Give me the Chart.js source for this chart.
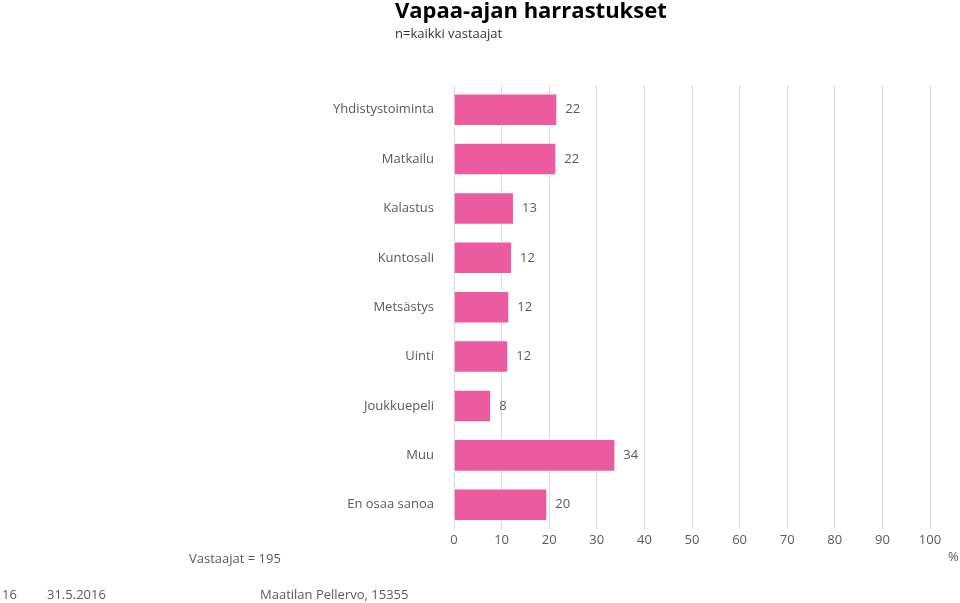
<!DOCTYPE html>
<html><head><meta charset="utf-8">
<script src="https://cdn.jsdelivr.net/npm/chart.js"></script>
<style>html,body{margin:0;padding:0;background:#fff}#w{width:960px;height:603px;position:relative}</style>
</head><body><div id="w"><canvas id="c"></canvas></div>
<script>
const categories=["Yhdistystoiminta","Matkailu","Kalastus","Kuntosali","Metsästys","Uinti","Joukkuepeli","Muu","En osaa sanoa"];
const values=[21.7,21.5,12.6,12.2,11.6,11.4,7.8,33.9,19.6];
const labels=["22","22","13","12","12","12","8","34","20"];
const F="'Open Sans', 'Liberation Sans', sans-serif";
const extra={id:"extra",afterDraw(ch){const c=ch.ctx;c.save();c.fillStyle="#595959";c.font="13px "+F;c.textBaseline="middle";
const m=ch.getDatasetMeta(0);m.data.forEach((b,i)=>{c.textAlign="left";c.fillText(labels[i],b.x+8,b.y);});
c.fillStyle="#000";c.textAlign="left";c.font="bold 22px "+F;c.fillText("Vapaa-ajan harrastukset",395,12);
c.font="13px "+F;c.fillStyle="#333";c.fillText("n=kaikki vastaajat",395,34);
c.fillStyle="#595959";c.fillText("Vastaajat = 195",189,559);c.fillText("%",948,557);
c.fillText("16",2,595);c.fillText("31.5.2016",47,595);c.fillText("Maatilan Pellervo, 15355",260,595);c.restore();}};
new Chart(document.getElementById("c"),{type:"bar",data:{labels:categories,datasets:[{data:values,backgroundColor:"#EC5BA0",borderColor:"#fff",borderWidth:1,categoryPercentage:0.66,barPercentage:1}]},
options:{indexAxis:"y",responsive:true,maintainAspectRatio:false,animation:false,
layout:{padding:{left:0,right:30,top:85,bottom:52}},
plugins:{legend:{display:false},tooltip:{enabled:false}},
scales:{x:{min:0,max:100,ticks:{stepSize:10,color:"#595959",font:{family:F,size:13}},grid:{color:"#d9d9d9",drawTicks:false},border:{display:false}},
y:{afterFit(s){s.width=454;},ticks:{color:"#595959",font:{family:F,size:13},padding:12},grid:{display:false},border:{display:false}}}},plugins:[extra]});
</script></body></html>
